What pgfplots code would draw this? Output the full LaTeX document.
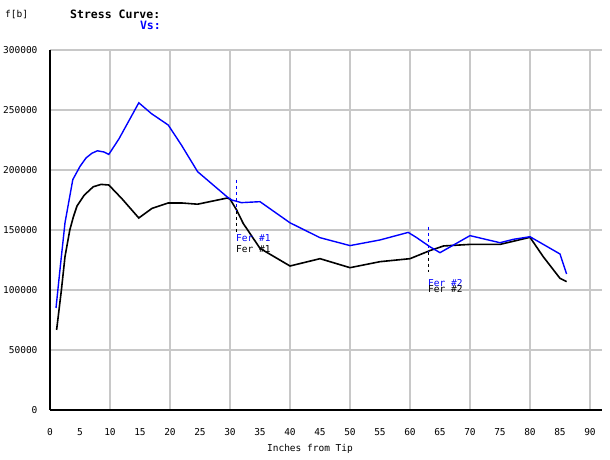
\documentclass[border=0pt]{standalone}
\usepackage{pgfplots}
\pgfplotsset{compat=1.18}
\usepackage{fontspec}
\setmainfont{DejaVu Sans Mono}
\definecolor{gridgray}{RGB}{200,200,200}
\definecolor{fblue}{RGB}{0,0,255}
\begin{document}
\begin{tikzpicture}[x=1pt,y=1pt]
\useasboundingbox (0,0) rectangle (610,460);
\begin{axis}[
  at={(50pt,50pt)}, anchor=south west,
  width=552pt, height=360pt, scale only axis,
  xmin=0, xmax=92, ymin=0, ymax=300000,
  axis x line*=bottom, axis y line*=left,
  axis line style={-, black, line width=1.6pt},
  xtick={0,5,...,90},
  minor xtick={10,20,...,90},
  ytick={0,50000,...,300000},
  major tick length=0pt, minor tick length=0pt,
  xmajorgrids=false, xminorgrids=true, ymajorgrids=true,
  grid style={gridgray, line width=1.2pt},
  minor grid style={gridgray, line width=1.2pt},
  scaled y ticks=false,
  /pgf/number format/assume math mode=true,
  yticklabel style={/pgf/number format/fixed, /pgf/number format/1000 sep={}, font=\fontsize{9.5}{11}\selectfont, xshift=-9pt},
  xticklabel style={font=\fontsize{9.5}{11}\selectfont, yshift=-15pt},
  xlabel={Inches from Tip},
  xlabel style={font=\fontsize{9.5}{11}\selectfont, yshift=-2pt, xshift=-16pt},
  clip=false,
]
\addplot[black, line width=1.6pt] coordinates {
(1.1,66700) (1.9,100000) (2.5,127800) (3.3,150000) (3.9,161000) (4.5,170000) (5.7,179000) (7.2,186000) (8.5,188000) (9.8,187500) (12,176000) (14.8,160000) (17,168000) (19.7,172500) (22,172500) (24.6,171500) (27,174000) (29.5,176600) (30,175800) (31.1,166700) (32.2,155500) (35,134700) (40,120000) (45,126100) (50,118600) (55,123600) (60,126100) (63.3,132800) (65.6,136700) (70,138000) (75,138000) (80,143900) (82.2,127800) (85,109700) (86.1,107000)
};
\addplot[fblue, line width=1.4pt] coordinates {
(1.0,85000) (1.6,114000) (2.5,156000) (3.8,192000) (5,203000) (6,210000) (7,214000) (7.9,216000) (9,215000) (9.8,213000) (11.5,226000) (14.8,256000) (16.9,247000) (19.7,237500) (21.9,220800) (24.6,198600) (27.2,187500) (29.5,177700) (30.3,175000) (31.9,172800) (35,173600) (40,156000) (45,143600) (50,137000) (55,141700) (59.7,148000) (61,144000) (63.3,136100) (65,131100) (70,145300) (75,139400) (77.2,142200) (80,144400) (85,130000) (86.1,113300)
};
\addplot[fblue, dashed, line width=0.8pt] coordinates {(31.1,191700) (31.1,166000)};
\addplot[black, dashed, line width=0.8pt] coordinates {(31.1,166000) (31.1,148000)};
\addplot[fblue, dashed, line width=0.8pt] coordinates {(63.05,152800) (63.05,132000)};
\addplot[black, dashed, line width=0.8pt] coordinates {(63.05,132000) (63.05,115300)};
\node[anchor=west, inner sep=0pt, text=fblue, font=\fontsize{9.5}{11}\selectfont] at (axis cs:31.0,143300) {Fer \#1};
\node[anchor=west, inner sep=0pt, text=black, font=\fontsize{9.5}{11}\selectfont] at (axis cs:31.0,134000) {Fer \#1};
\node[anchor=west, inner sep=0pt, text=fblue, font=\fontsize{9.5}{11}\selectfont] at (axis cs:63.0,105800) {Fer \#2};
\node[anchor=west, inner sep=0pt, text=black, font=\fontsize{9.5}{11}\selectfont] at (axis cs:63.0,100600) {Fer \#2};
\end{axis}
\node[anchor=west, inner sep=0pt, font=\fontsize{9.5}{11}\selectfont] at (5,445) {f[b]};
\node[anchor=west, inner sep=0pt, font=\fontsize{11.5}{13}\selectfont\bfseries] at (70,446) {Stress Curve:};
\node[anchor=east, inner sep=0pt, text=fblue, font=\fontsize{11.5}{13}\selectfont\bfseries] at (161,435) {Vs:};
\end{tikzpicture}
\end{document}
